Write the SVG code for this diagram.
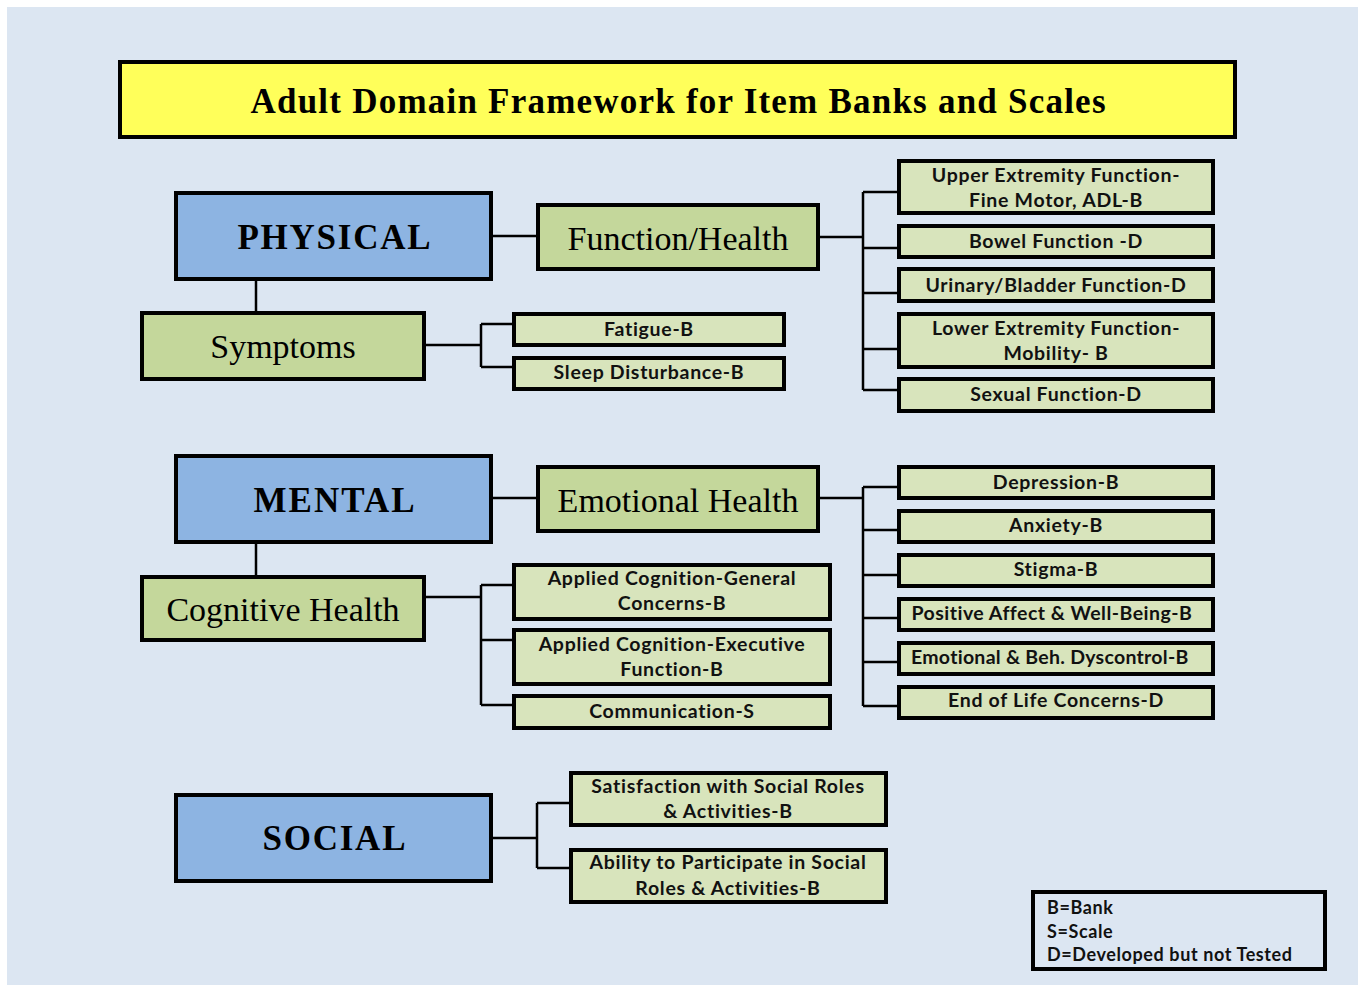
<svg xmlns="http://www.w3.org/2000/svg" width="1358" height="985" viewBox="0 0 1358 985">
<style>
.bg{fill:#DCE6F2}
.box{stroke:#000;stroke-width:4}
.title{fill:#FFFF5A}
.dom{fill:#8DB4E2}
.sub{fill:#C4D79B}
.leaf{fill:#D8E4BC}
.legend{fill:none}
.conn{fill:none;stroke:#000;stroke-width:2.5}
.ts{font-family:"Liberation Serif","Times New Roman",serif;fill:#000;text-anchor:middle}
.tb{font-weight:bold}
.tl{font-family:Lato,"Liberation Sans",sans-serif;font-weight:bold;font-size:19.5px;letter-spacing:0.7px;fill:#111;text-anchor:middle}
.lg{font-family:Lato,"Liberation Sans",sans-serif;font-weight:bold;font-size:18px;letter-spacing:0.6px;fill:#111}
</style>
<rect x="0" y="0" width="1358" height="985" fill="#fff"/>
<rect class="bg" x="7" y="7" width="1351" height="978"/>

<g id="title">
<rect class="box title" x="120" y="62" width="1115" height="75"/>
<text class="ts tb" x="678" y="113" font-size="35" textLength="855" lengthAdjust="spacing">Adult Domain Framework for Item Banks and Scales</text>
</g>

<g id="connectors">
<path class="conn" d="M256,279 V313"/>
<path class="conn" d="M491,236 H538"/>
<path class="conn" d="M424,345 H481 M481,324 V367 M481,324 H514 M481,367 H514"/>
<path class="conn" d="M818,237 H863 M863,192 V390 M863,192 H899 M863,248 H899 M863,293 H899 M863,349 H899 M863,390 H899"/>
<path class="conn" d="M256,542 V577"/>
<path class="conn" d="M491,498 H538"/>
<path class="conn" d="M818,498 H863 M863,487 V706 M863,487 H899 M863,530 H899 M863,575 H899 M863,618 H899 M863,662 H899 M863,706 H899"/>
<path class="conn" d="M424,597 H481 M481,585 V705 M481,585 H514 M481,640 H514 M481,705 H514"/>
<path class="conn" d="M491,838 H537 M537,803 V868 M537,803 H571 M537,868 H571"/>
</g>

<g id="physical">
<rect class="box dom" x="176" y="193" width="315" height="86"/>
<text class="ts tb" x="334" y="249" font-size="35" textLength="193" lengthAdjust="spacing">PHYSICAL</text>
</g>
<g id="function-health">
<rect class="box sub" x="538" y="205" width="280" height="64"/>
<text class="ts" x="678" y="250" font-size="34">Function/Health</text>
</g>
<g id="symptoms">
<rect class="box sub" x="142" y="313" width="282" height="66"/>
<text class="ts" x="283" y="358" font-size="34">Symptoms</text>
</g>
<g id="upper-extremity">
<rect class="box leaf" x="899" y="161" width="314" height="52"/>
<text class="tl" x="1056" y="182">Upper Extremity Function-</text>
<text class="tl" x="1056" y="207">Fine Motor, ADL-B</text>
</g>
<g id="bowel">
<rect class="box leaf" x="899" y="226" width="314" height="31"/>
<text class="tl" x="1056" y="248">Bowel Function -D</text>
</g>
<g id="urinary">
<rect class="box leaf" x="899" y="269" width="314" height="32"/>
<text class="tl" x="1056" y="292">Urinary/Bladder Function-D</text>
</g>
<g id="lower-extremity">
<rect class="box leaf" x="899" y="314" width="314" height="53"/>
<text class="tl" x="1056" y="335">Lower Extremity Function-</text>
<text class="tl" x="1056" y="360">Mobility- B</text>
</g>
<g id="sexual">
<rect class="box leaf" x="899" y="379" width="314" height="32"/>
<text class="tl" x="1056" y="401">Sexual Function-D</text>
</g>
<g id="fatigue">
<rect class="box leaf" x="514" y="314" width="270" height="31"/>
<text class="tl" x="649" y="336">Fatigue-B</text>
</g>
<g id="sleep">
<rect class="box leaf" x="514" y="358" width="270" height="31"/>
<text class="tl" x="649" y="379">Sleep Disturbance-B</text>
</g>

<g id="mental">
<rect class="box dom" x="176" y="456" width="315" height="86"/>
<text class="ts tb" x="334" y="512" font-size="35" textLength="161" lengthAdjust="spacing">MENTAL</text>
</g>
<g id="emotional-health">
<rect class="box sub" x="538" y="467" width="280" height="64"/>
<text class="ts" x="678" y="512" font-size="34">Emotional Health</text>
</g>
<g id="cognitive-health">
<rect class="box sub" x="142" y="577" width="282" height="63"/>
<text class="ts" x="283" y="621" font-size="34">Cognitive Health</text>
</g>
<g id="depression">
<rect class="box leaf" x="899" y="467" width="314" height="31"/>
<text class="tl" x="1056" y="489">Depression-B</text>
</g>
<g id="anxiety">
<rect class="box leaf" x="899" y="511" width="314" height="31"/>
<text class="tl" x="1056" y="532">Anxiety-B</text>
</g>
<g id="stigma">
<rect class="box leaf" x="899" y="555" width="314" height="31"/>
<text class="tl" x="1056" y="576">Stigma-B</text>
</g>
<g id="positive-affect">
<rect class="box leaf" x="899" y="599" width="314" height="31"/>
<text class="tl" x="1052" y="620" textLength="281" lengthAdjust="spacing">Positive Affect &amp; Well-Being-B</text>
</g>
<g id="dyscontrol">
<rect class="box leaf" x="899" y="643" width="314" height="31"/>
<text class="tl" x="1050" y="664" textLength="278" lengthAdjust="spacing">Emotional &amp; Beh. Dyscontrol-B</text>
</g>
<g id="end-of-life">
<rect class="box leaf" x="899" y="687" width="314" height="31"/>
<text class="tl" x="1056" y="707">End of Life Concerns-D</text>
</g>
<g id="cog-general">
<rect class="box leaf" x="514" y="565" width="316" height="54"/>
<text class="tl" x="672" y="585">Applied Cognition-General</text>
<text class="tl" x="672" y="610">Concerns-B</text>
</g>
<g id="cog-executive">
<rect class="box leaf" x="514" y="630" width="316" height="54"/>
<text class="tl" x="672" y="651">Applied Cognition-Executive</text>
<text class="tl" x="672" y="676">Function-B</text>
</g>
<g id="communication">
<rect class="box leaf" x="514" y="696" width="316" height="32"/>
<text class="tl" x="672" y="718">Communication-S</text>
</g>

<g id="social">
<rect class="box dom" x="176" y="795" width="315" height="86"/>
<text class="ts tb" x="334" y="850" font-size="35" textLength="143" lengthAdjust="spacing">SOCIAL</text>
</g>
<g id="satisfaction">
<rect class="box leaf" x="571" y="773" width="315" height="52"/>
<text class="tl" x="728" y="793">Satisfaction with Social Roles</text>
<text class="tl" x="728" y="818">&amp; Activities-B</text>
</g>
<g id="ability">
<rect class="box leaf" x="571" y="850" width="315" height="52"/>
<text class="tl" x="728" y="869">Ability to Participate in Social</text>
<text class="tl" x="728" y="895">Roles &amp; Activities-B</text>
</g>

<g id="legend">
<rect class="box legend" x="1033" y="892" width="292" height="77"/>
<text class="lg" x="1047" y="914">B=Bank</text>
<text class="lg" x="1047" y="938">S=Scale</text>
<text class="lg" x="1047" y="961">D=Developed but not Tested</text>
</g>
</svg>
